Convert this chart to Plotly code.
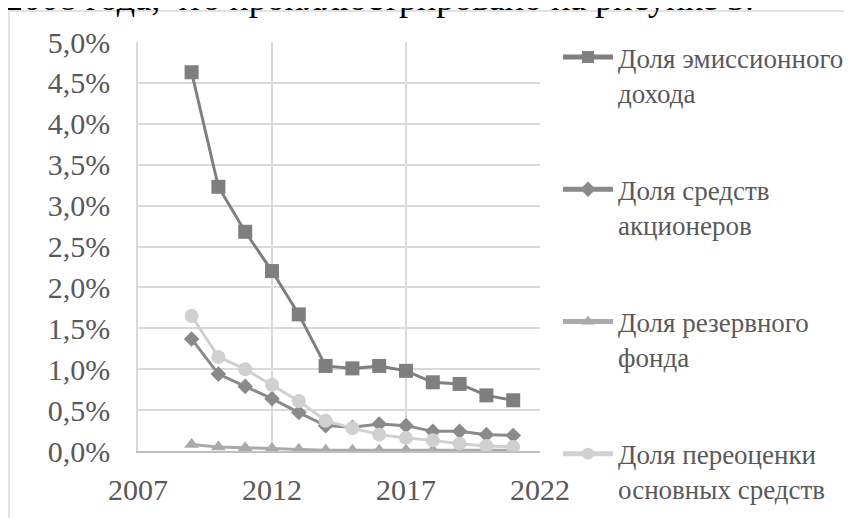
import plotly.graph_objects as go

years = [2009, 2010, 2011, 2012, 2013, 2014, 2015, 2016, 2017, 2018, 2019, 2020, 2021]
emission = [0.0463, 0.0323, 0.0268, 0.0220, 0.0167, 0.0104, 0.0101, 0.0104, 0.0098, 0.0084, 0.0082, 0.0068, 0.0062]
shareholders = [0.0137, 0.0094, 0.0079, 0.0064, 0.0047, 0.0031, 0.0029, 0.0033, 0.0031, 0.0024, 0.0024, 0.0020, 0.0019]
reserve = [0.0008, 0.0005, 0.0004, 0.0003, 0.0002, 0.0001, 0.0001, 0.0001, 0.0001, 0.0001, 0.0001, 0.0001, 0.0001]
revaluation = [0.0165, 0.0115, 0.0100, 0.0081, 0.0061, 0.0037, 0.0028, 0.0020, 0.0016, 0.0013, 0.0009, 0.0006, 0.0005]

names = ["Доля эмиссионного<br>дохода", "Доля средств<br>акционеров",
         "Доля резервного<br>фонда", "Доля переоценки<br>основных средств"]
caption = "2008 года, что проиллюстрировано на рисунке 3."

# the page body adds an 8px offset; work in window pixels and subtract it
OFF = 8
W, H = 852 - OFF, 518 - OFF
L, T = 138 - OFF, 42 - OFF
PR, PB = 540 - OFF, 451 - OFF
R, B = W - PR, H - PB
pw, ph = PR - L, PB - T

def px(x):
    return (x - OFF - L) / pw

def py(y):
    return (PB - (y - OFF)) / ph

FONT = "Liberation Serif, DejaVu Serif, serif"

fig = go.Figure()
series = [
    (emission, names[0], "#7f7f7f", "square", 14),
    (shareholders, names[1], "#8a8a8a", "diamond", 12),
    (reserve, names[2], "#aaaaaa", "triangle-up", 13),
    (revaluation, names[3], "#d0d0d0", "circle", 14),
]
for i, (vals, name, col, sym, sz) in enumerate(series):
    fig.add_trace(go.Scatter(
        x=years, y=vals, name=name, mode="lines+markers",
        line=dict(color=col, width=3),
        marker=dict(color=col, symbol=sym, size=sz),
        legendgroup=f"g{i}",
    ))

fig.update_layout(
    width=W, height=H,
    margin=dict(l=L, r=R, t=T, b=B, autoexpand=False),
    paper_bgcolor="white", plot_bgcolor="white",
    separators=", ",
    font=dict(family=FONT, size=29, color="#595959"),
    showlegend=True,
    legend=dict(
        x=px(558), y=py(33), xanchor="left", yanchor="top",
        font=dict(family=FONT, size=27, color="#595959"),
        valign="top", itemwidth=50, itemsizing="constant",
        tracegroupgap=59, bgcolor="rgba(0,0,0,0)", maxheight=600,
    ),
    xaxis=dict(
        range=[2007, 2022], tick0=2007, dtick=5, tickformat="d",
        showgrid=True, gridcolor="#d9d9d9", gridwidth=1.5,
        showline=True, linecolor="#bfbfbf", linewidth=1.5,
        zeroline=False, ticks="", ticklabelstandoff=11, automargin=False,
        tickfont=dict(family=FONT, size=30, color="#595959"),
    ),
    yaxis=dict(
        range=[0, 0.05], dtick=0.005, tickformat=".1%",
        showgrid=True, gridcolor="#d9d9d9", gridwidth=1.5,
        showline=True, linecolor="#d9d9d9", linewidth=1.5,
        zeroline=False, ticks="", ticklabelstandoff=20, automargin=False,
        tickfont=dict(family=FONT, size=30, color="#595959"),
    ),
    shapes=[
        dict(type="line", xref="paper", yref="paper", x0=px(9), x1=px(9), y0=py(11), y1=py(530),
             line=dict(color="#d9d9d9", width=1.5)),
        dict(type="line", xref="paper", yref="paper", x0=px(9), x1=px(870), y0=py(11), y1=py(11),
             line=dict(color="#d9d9d9", width=1.5)),
    ],
    annotations=[
        dict(text=caption, xref="paper", yref="paper", x=px(4), y=py(19),
             xanchor="left", yanchor="bottom", showarrow=False, borderpad=0,
             font=dict(family=FONT, size=36, color="#000000")),
    ],
)

fig.write_html("out.html")
